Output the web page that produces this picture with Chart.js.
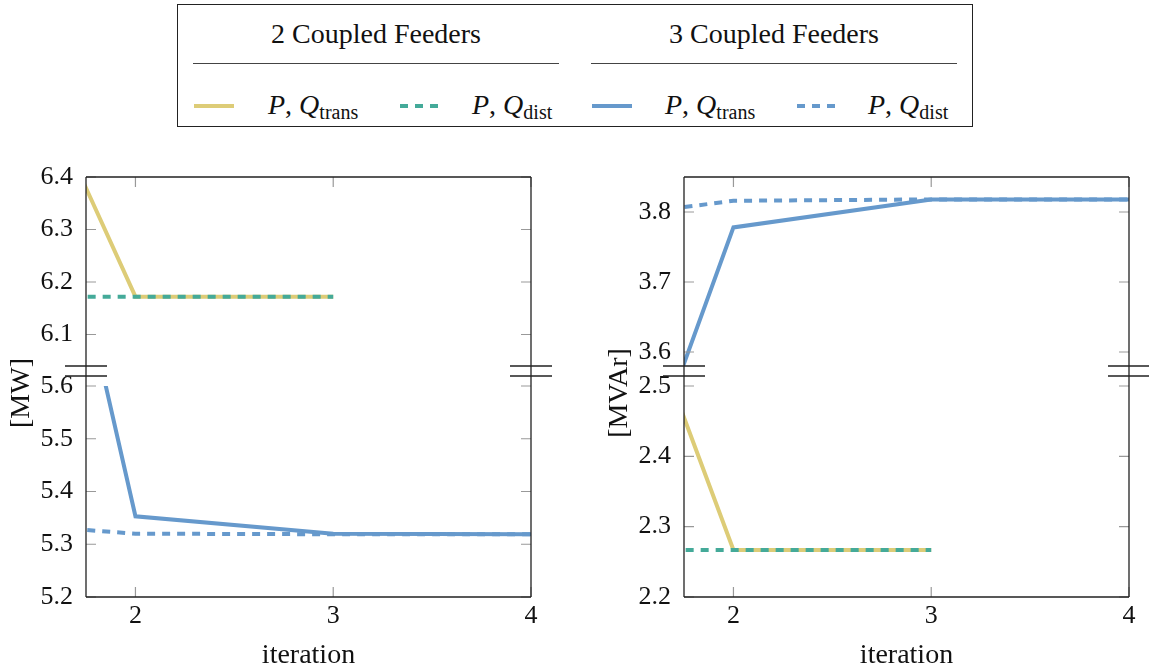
<!DOCTYPE html>
<html>
<head>
<meta charset="utf-8">
<script src="https://cdn.jsdelivr.net/npm/chart.js@4.4.1/dist/chart.umd.min.js"></script>
<style>
  body { margin: 0; background: #fff; width: 1149px; height: 670px; overflow: hidden; position: relative;
         font-family: "Liberation Serif", "Times New Roman", serif; color: #111; }
  .box { position: absolute; left: 177px; top: 4px; width: 794px; height: 121px; border: 1px solid #222; }
  .hdr { position: absolute; top: 18px; width: 366px; text-align: center; font-size: 28px; line-height: 32px; }
  .rule { position: absolute; top: 63px; width: 366px; height: 0; border-top: 1.3px solid #444; }
  .key { position: absolute; top: 103px; }
  .lbl { position: absolute; top: 89px; font-size: 28px; line-height: 32px; white-space: nowrap; }
  .lbl i { font-style: italic; }
  .lbl sub { font-size: 20px; vertical-align: -5px; line-height: 0; }
  canvas { position: absolute; top: 150px; }
</style>
</head>
<body>
<div class="box"></div>
<div class="hdr" style="left:193px">2 Coupled Feeders</div>
<div class="hdr" style="left:591px">3 Coupled Feeders</div>
<div class="rule" style="left:193px"></div>
<div class="rule" style="left:591px"></div>

<svg class="key" style="left:194px" width="40" height="6"><line x1="0" y1="3" x2="40" y2="3" stroke="#DDCC77" stroke-width="4"/></svg>
<div class="lbl" style="left:268px"><i>P</i>, <i>Q</i><sub>trans</sub></div>
<svg class="key" style="left:400px" width="38" height="6"><line x1="0" y1="3" x2="38" y2="3" stroke="#44AA99" stroke-width="4" stroke-dasharray="8 7"/></svg>
<div class="lbl" style="left:472px"><i>P</i>, <i>Q</i><sub>dist</sub></div>
<svg class="key" style="left:592px" width="40" height="6"><line x1="0" y1="3" x2="40" y2="3" stroke="#6699CC" stroke-width="4"/></svg>
<div class="lbl" style="left:665px"><i>P</i>, <i>Q</i><sub>trans</sub></div>
<svg class="key" style="left:797px" width="38" height="6"><line x1="0" y1="3" x2="38" y2="3" stroke="#6699CC" stroke-width="4" stroke-dasharray="8 7"/></svg>
<div class="lbl" style="left:868px"><i>P</i>, <i>Q</i><sub>dist</sub></div>

<canvas id="pChart" width="575" height="520" style="left:0px"></canvas>
<canvas id="qChart" width="574" height="520" style="left:575px"></canvas>

<script>
const iterations = [1, 2, 3, 4];
const xTicks = [2, 3, 4];

// active power [MW]
const pTrans2 = [7.0, 6.172, 6.172];
const pDist2 = [6.172, 6.172, 6.172];
const pTrans3 = [7.0, 5.353, 5.320, 5.319];
const pDist3 = [5.348, 5.320, 5.319, 5.319];
const pUpperRange = [6.04, 6.4];
const pLowerRange = [5.2, 5.6];
const pTicksUpper = [6.1, 6.2, 6.3, 6.4];
const pTicksLower = [5.2, 5.3, 5.4, 5.5, 5.6];

// reactive power [MVAr]
const qTrans2 = [3.02, 2.267, 2.267];
const qDist2 = [2.267, 2.267, 2.267];
const qTrans3 = [3.0, 3.778, 3.818, 3.818];
const qDist3 = [3.78, 3.816, 3.818, 3.818];
const qUpperRange = [3.58, 3.85];
const qLowerRange = [2.2, 2.5];
const qTicksUpper = [3.6, 3.7, 3.8];
const qTicksLower = [2.2, 2.3, 2.4, 2.5];

const SAND = "#DDCC77";
const TEAL = "#44AA99";
const BLUE = "#6699CC";
const TICK = 10;
const font = { family: "'Liberation Serif', 'Times New Roman', serif", size: 26 };
const titleFont = { family: font.family, size: 28, lineHeight: 1 };

function toPoints(values) {
    return values.map((y, i) => ({ x: iterations[i], y: y }));
}

function series(values, color, dashed, axis, order) {
    return {
        data: toPoints(values),
        borderColor: color,
        borderWidth: 4,
        borderDash: dashed ? [8, 7] : [],
        borderCapStyle: "butt",
        pointRadius: 0,
        tension: 0,
        fill: false,
        yAxisID: axis,
        order: order,
    };
}

// frame, inward ticks, axis breaks and the y title; each line is clipped to its own y section
const panelFrame = {
    id: "panelFrame",
    beforeDatasetDraw(chart, args) {
        const ys = chart.scales[args.meta.yAxisID];
        const a = chart.chartArea;
        chart.ctx.save();
        chart.ctx.beginPath();
        chart.ctx.rect(a.left, ys.top, a.right - a.left, ys.bottom - ys.top);
        chart.ctx.clip();
    },
    afterDatasetDraw(chart) {
        chart.ctx.restore();
    },
    afterDraw(chart, args, opts) {
        const ctx = chart.ctx;
        const a = chart.chartArea;
        const x = chart.scales.x, top = chart.scales.yTop, bot = chart.scales.yBot, gap = chart.scales.yGap;
        ctx.save();
        ctx.lineWidth = 1.2;
        ctx.strokeStyle = "#999";
        ctx.beginPath();
        [top, bot].forEach(s => {
            s.ticks.forEach(t => {
                const py = s.getPixelForValue(t.value);
                ctx.moveTo(a.left, py); ctx.lineTo(a.left + TICK, py);
                ctx.moveTo(a.right, py); ctx.lineTo(a.right - TICK, py);
            });
        });
        x.ticks.forEach(t => {
            const px = x.getPixelForValue(t.value);
            ctx.moveTo(px, top.top); ctx.lineTo(px, top.top + TICK);
            ctx.moveTo(px, bot.bottom); ctx.lineTo(px, bot.bottom - TICK);
        });
        ctx.stroke();

        ctx.strokeStyle = "#222";
        ctx.lineWidth = 1.3;
        ctx.beginPath();
        ctx.moveTo(a.left, a.top); ctx.lineTo(a.right, a.top);
        ctx.moveTo(a.left, a.bottom); ctx.lineTo(a.right, a.bottom);
        ctx.moveTo(a.left, a.top); ctx.lineTo(a.left, a.bottom);
        ctx.moveTo(a.right, a.top); ctx.lineTo(a.right, a.bottom);
        [gap.top, gap.top + 10].forEach(by => {
            ctx.moveTo(a.left - 21, by); ctx.lineTo(a.left + 21, by);
            ctx.moveTo(a.right - 21, by); ctx.lineTo(a.right + 21, by);
        });
        ctx.stroke();

        ctx.fillStyle = "#111";
        ctx.font = titleFont.size + "px " + titleFont.family;
        ctx.textAlign = "center";
        ctx.textBaseline = "middle";
        ctx.translate(opts.titleX, (a.top + a.bottom) / 2 + 6);
        ctx.rotate(-Math.PI / 2);
        ctx.fillText(opts.title, 0, 0);
        ctx.restore();
    },
};

function yScale(range, ticks, weight, stackWeight) {
    return {
        type: "linear",
        position: "left",
        stack: "panel",
        stackWeight: stackWeight,
        weight: weight,
        min: range[0],
        max: range[1],
        afterBuildTicks: s => { s.ticks = ticks.map(v => ({ value: v })); },
        afterFit: s => { s.width = 60; },
        grid: { display: false },
        border: { display: false },
        ticks: { font: font, color: "#111", padding: 5, autoSkip: false, callback: v => v.toFixed(1) },
    };
}

function makePanel(id, cfg) {
    return new Chart(document.getElementById(id), {
        type: "line",
        data: { datasets: cfg.datasets },
        options: {
            responsive: false,
            animation: false,
            events: [],
            layout: { padding: { left: cfg.padLeft, right: cfg.padRight, top: 27, bottom: 0 } },
            plugins: {
                legend: { display: false },
                tooltip: { enabled: false },
                panelFrame: { title: cfg.title, titleX: cfg.titleX },
            },
            scales: {
                x: {
                    type: "linear",
                    min: 1.75,
                    max: 4,
                    afterBuildTicks: s => { s.ticks = xTicks.map(v => ({ value: v })); },
                    afterFit: s => { s.height = 73; },
                    grid: { display: false },
                    border: { display: false },
                    ticks: { font: font, color: "#111", padding: -4, autoSkip: false, maxRotation: 0,
                             callback: v => String(v) },
                    title: { display: true, text: "iteration", color: "#111", padding: 0, font: titleFont },
                },
                yTop: yScale(cfg.upperRange, cfg.upperTicks, 3, 189),
                yGap: {
                    type: "linear",
                    position: "left",
                    stack: "panel",
                    stackWeight: 20,
                    weight: 2,
                    display: true,
                    afterFit: s => { s.width = 60; },
                    ticks: { display: false },
                    grid: { display: false },
                    border: { display: false },
                },
                yBot: yScale(cfg.lowerRange, cfg.lowerTicks, 1, 211),
            },
        },
        plugins: [panelFrame],
    });
}

makePanel("pChart", {
    title: "[MW]",
    titleX: 22,
    padLeft: 26,
    padRight: 44,
    upperRange: pUpperRange,
    lowerRange: pLowerRange,
    upperTicks: pTicksUpper,
    lowerTicks: pTicksLower,
    datasets: [
        series(pDist2, TEAL, true, "yTop", 0),
        series(pTrans2, SAND, false, "yTop", 1),
        series(pDist3, BLUE, true, "yBot", 2),
        series(pTrans3, BLUE, false, "yBot", 3),
    ],
});

makePanel("qChart", {
    title: "[MVAr]",
    titleX: 45,
    padLeft: 49,
    padRight: 20,
    upperRange: qUpperRange,
    lowerRange: qLowerRange,
    upperTicks: qTicksUpper,
    lowerTicks: qTicksLower,
    datasets: [
        series(qDist2, TEAL, true, "yBot", 0),
        series(qTrans2, SAND, false, "yBot", 1),
        series(qDist3, BLUE, true, "yTop", 2),
        series(qTrans3, BLUE, false, "yTop", 3),
    ],
});
</script>
</body>
</html>
